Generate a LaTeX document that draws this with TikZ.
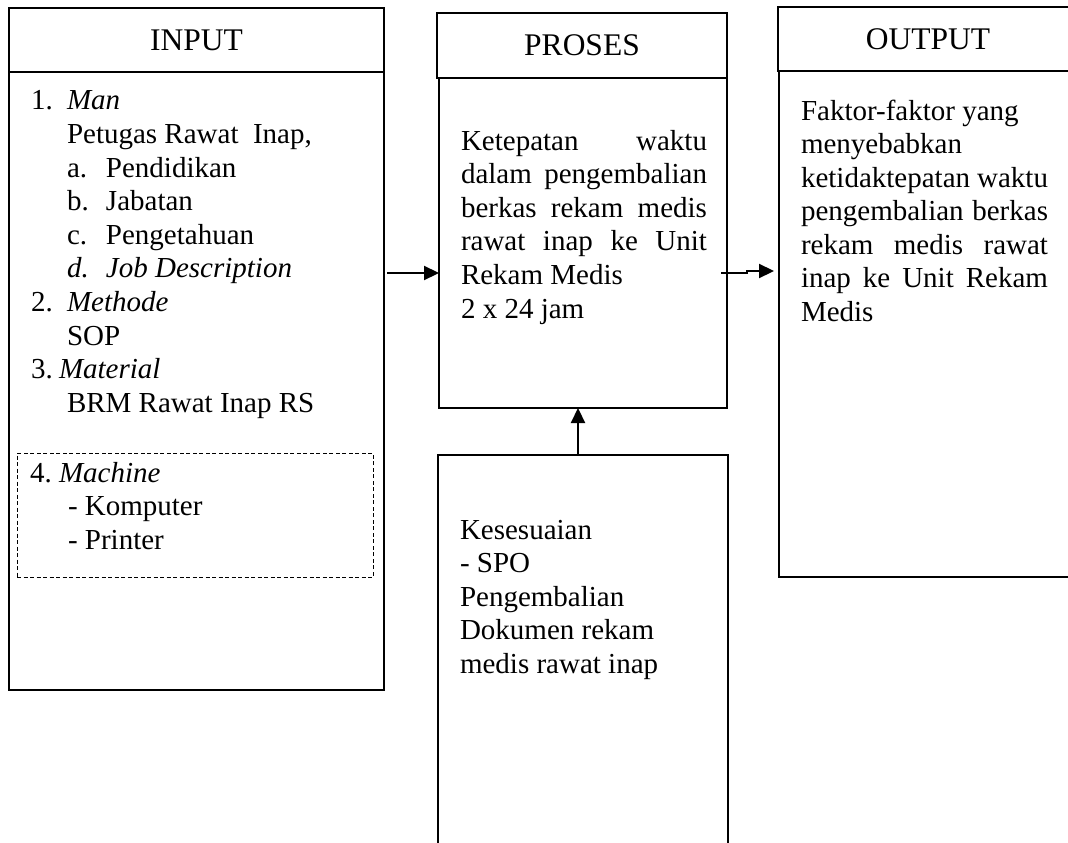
\documentclass[tikz,border=0pt]{standalone}
\usepackage{fontspec}
\setmainfont{Liberation Serif}
\usetikzlibrary{arrows.meta,calc}
\begin{document}
\begin{tikzpicture}[x=1pt,y=-1pt,
  box/.style={draw, line width=1.8pt, inner sep=0pt, outer sep=0pt, anchor=north west},
  dbox/.style={draw, line width=1pt, dash pattern=on 4pt off 2.5pt, inner sep=0pt, outer sep=0pt, anchor=north west},
  hd/.style={font=\fontsize{31.5}{36}\selectfont},
  txt/.style={font=\fontsize{29}{33.6}\selectfont, inner sep=0pt, outer sep=0pt, anchor=base west},
  arr/.style={line width=2.2pt, -{Triangle[length=15pt,width=14pt]}}]
\useasboundingbox (0,0) rectangle (1068,843);
\clip (0,0) rectangle (1068,843);
% boxes
\node[box, hd, minimum width=375pt, minimum height=64pt] (inhead) at (9,8) {INPUT};
\node[box, minimum width=375pt, minimum height=618pt] (incont) at (9,72) {};
\node[box, hd, minimum width=290pt, minimum height=65pt] (prhead) at (437,13) {PROSES};
\node[box, minimum width=288pt, minimum height=330pt] (prcont) at (439,78) {};
\node[box, hd, minimum width=300pt, minimum height=64pt] (outhead) at (778,7) {OUTPUT};
\node[box, minimum width=300pt, minimum height=506pt] (outcont) at (779,71) {};
\node[box, minimum width=290pt, minimum height=400pt] (botbox) at (438,455) {};
\node[dbox, minimum width=356pt, minimum height=124pt] (mach) at (17,453) {};
% texts
\node[txt] (intext) at (31,110) {\parbox[t]{345pt}{%
\makebox[36pt][l]{1.}\textit{Man}\\
\hspace*{36pt}Petugas Rawat\ \ Inap,\\
\hspace*{36pt}\makebox[39pt][l]{a.}Pendidikan\\
\hspace*{36pt}\makebox[39pt][l]{b.}Jabatan\\
\hspace*{36pt}\makebox[39pt][l]{c.}Pengetahuan\\
\hspace*{36pt}\makebox[39pt][l]{\textit{d.}}\textit{Job Description}\\
\makebox[36pt][l]{2.}\textit{Methode}\\
\hspace*{36pt}SOP\\
\makebox[28pt][l]{3.}\textit{Material}\\
\hspace*{36pt}BRM Rawat Inap RS}};
\node[txt] (machtext) at (30,482) {\parbox[t]{330pt}{%
\makebox[29pt][l]{4.}\textit{Machine}\\
\hspace*{38pt}- Komputer\\
\hspace*{38pt}- Printer}};
\node[txt] (prtext) at (461,150) {\parbox[t]{246pt}{%
\makebox[246pt][s]{Ketepatan waktu}\\
\makebox[246pt][s]{dalam pengembalian}\\
\makebox[246pt][s]{berkas rekam medis}\\
\makebox[246pt][s]{rawat inap ke Unit}\\
Rekam Medis\\
2 x 24 jam}};
\node[txt] (outtext) at (801,120) {\parbox[t]{247pt}{%
Faktor-faktor yang\\
menyebabkan\\
\makebox[247pt][s]{ketidaktepatan waktu}\\
\makebox[247pt][s]{pengembalian berkas}\\
\makebox[247pt][s]{rekam medis rawat}\\
\makebox[247pt][s]{inap ke Unit Rekam}\\
Medis}};
\node[txt] (bottext) at (460,539) {\parbox[t]{250pt}{%
Kesesuaian\\
- SPO\\
Pengembalian\\
Dokumen rekam\\
medis rawat inap}};
% connectors
\coordinate (ay) at (0,273);
\coordinate (vx) at (578,0);
\draw[arr] ($(incont.east |- ay)+(3,0)$) -- (prcont.west |- ay);
\draw[arr, shorten >=5pt] ($(prcont.east |- ay)+(-6,0)$) -- ++(26,0) -- ++(0,-2) -- (outcont.west |- 0,271);
\draw[arr] (botbox.north -| vx) -- (prcont.south -| vx);
\end{tikzpicture}
\end{document}
